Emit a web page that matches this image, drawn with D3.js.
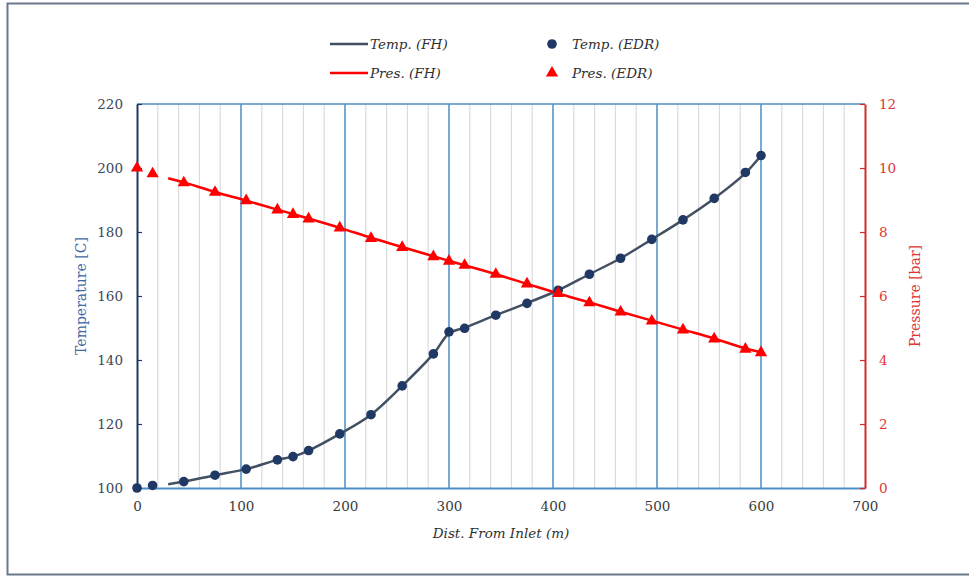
<!DOCTYPE html>
<html>
<head>
<meta charset="utf-8">
<script src="https://cdn.jsdelivr.net/npm/d3@7"></script>
<style>
html,body{margin:0;padding:0;background:#fff;}
svg{display:block;}
</style>
</head>
<body>
<svg id="chart" width="969" height="577"></svg>
<script>
// ---- data ----
const distEDR = [0, 15, 45, 75, 105, 135, 150, 165, 195, 225, 255, 285, 300, 315, 345, 375, 405, 435, 465, 495, 525, 555, 585, 600];
const tempEDR = [100, 100.8, 102, 104, 105.9, 108.8, 109.8, 111.7, 116.9, 122.9, 131.9, 141.9, 148.8, 149.9, 154, 157.7, 161.8, 166.8, 171.8, 177.7, 183.8, 190.5, 198.6, 203.9];
const presEDR = [10.0, 9.82, 9.54, 9.24, 8.98, 8.69, 8.55, 8.41, 8.13, 7.80, 7.52, 7.23, 7.09, 6.96, 6.68, 6.38, 6.08, 5.79, 5.50, 5.22, 4.94, 4.66, 4.34, 4.23];

const distFH = [30, 45, 75, 105, 135, 150, 165, 195, 225, 255, 285, 300, 315, 345, 375, 405, 435, 465, 495, 525, 555, 585, 600];
const tempFH = [101.2, 102, 104, 105.9, 108.8, 109.8, 111.7, 116.9, 122.9, 131.9, 141.9, 148.3, 150.1, 154, 157.8, 161.8, 166.8, 171.8, 177.7, 183.8, 190.5, 198.4, 203.9];
const presFH = [9.68, 9.55, 9.25, 8.98, 8.70, 8.56, 8.42, 8.13, 7.82, 7.53, 7.24, 7.10, 6.96, 6.68, 6.38, 6.08, 5.80, 5.51, 5.23, 4.95, 4.67, 4.36, 4.24];

const xTicks = [0, 100, 200, 300, 400, 500, 600, 700];
const xMinorTicks = d3.range(0, 701, 20);
const tempTicks = [100, 120, 140, 160, 180, 200, 220];
const presTicks = [0, 2, 4, 6, 8, 10, 12];

const legendLabels = ["Temp. (FH)", "Temp. (EDR)", "Pres. (FH)", "Pres. (EDR)"];
const xTitle = "Dist. From Inlet (m)";
const yTitle = "Temperature [C]";
const y2Title = "Pressure [bar]";

// ---- layout ----
const L = 137, R = 865, T = 104, B = 488;
const svg = d3.select("#chart");
const serif = "'DejaVu Serif', 'Liberation Serif', serif";

const C = {
  navy: "#1f3864",
  tline: "#434f62",
  red: "#ff0000",
  axisRed: "#d42a2a",
  major: "#4a8fc8",
  minor: "#dcdcdc",
  tickLbl: "#3b475a",
  yTitle: "#44679f"
};

// outer frame
svg.append("rect").attr("x", 7.5).attr("y", 3.5).attr("width", 980).attr("height", 571)
  .attr("fill", "#fff").attr("stroke", "#6b7889").attr("stroke-width", 2);

const x = d3.scaleLinear().domain([0, 700]).range([L, R]);
const yT = d3.scaleLinear().domain([100, 220]).range([B, T]);
const yP = d3.scaleLinear().domain([0, 12]).range([B, T]);

// minor gridlines
svg.append("g").selectAll("line").data(xMinorTicks.filter(d => d % 100 !== 0)).join("line")
  .attr("x1", d => x(d)).attr("x2", d => x(d)).attr("y1", T).attr("y2", B)
  .attr("stroke", C.minor).attr("stroke-width", 1.2);

// major gridlines
svg.append("g").selectAll("line").data(xTicks.filter(d => d > 0 && d < 700)).join("line")
  .attr("x1", d => x(d)).attr("x2", d => x(d)).attr("y1", T).attr("y2", B)
  .attr("stroke", C.major).attr("stroke-width", 1.5);

// top border
svg.append("line").attr("x1", L).attr("x2", R).attr("y1", T).attr("y2", T)
  .attr("stroke", C.major).attr("stroke-width", 1.5);

// bottom axis
const gx = svg.append("g").attr("transform", `translate(0,${B})`)
  .call(d3.axisBottom(x).tickValues(xTicks).tickSize(0).tickPadding(13));
gx.select(".domain").attr("stroke", C.major).attr("stroke-width", 2);
gx.selectAll("text").attr("font-family", serif).attr("font-size", 13.5).attr("fill", "#3a3a3a");

// left axis
const gl = svg.append("g").attr("transform", `translate(${L},0)`)
  .call(d3.axisLeft(yT).tickValues(tempTicks).tickSize(-5).tickPadding(14).tickSizeOuter(0));
gl.select(".domain").attr("stroke", C.navy).attr("stroke-width", 2);
gl.selectAll(".tick line").attr("stroke", C.navy).attr("stroke-width", 1.2);
gl.selectAll("text").attr("font-family", serif).attr("font-size", 13.5).attr("fill", C.tickLbl);

// right axis
const gr = svg.append("g").attr("transform", `translate(${R},0)`)
  .call(d3.axisRight(yP).tickValues(presTicks).tickSize(-5).tickPadding(14).tickSizeOuter(0));
gr.select(".domain").attr("stroke", C.axisRed).attr("stroke-width", 2);
gr.selectAll(".tick line").attr("stroke", C.axisRed).attr("stroke-width", 1.2);
gr.selectAll("text").attr("font-family", serif).attr("font-size", 13.5).attr("fill", "#e03535");

// axis titles
svg.append("text").attr("transform", `translate(81,${(T + B) / 2}) rotate(-90)`)
  .attr("text-anchor", "middle").attr("dy", "0.35em").attr("font-family", serif).attr("font-size", 14)
  .attr("fill", C.yTitle).text(yTitle);
svg.append("text").attr("transform", `translate(915,${(T + B) / 2}) rotate(-90)`)
  .attr("text-anchor", "middle").attr("dy", "0.35em").attr("font-family", serif).attr("font-size", 14)
  .attr("fill", "#e03535").text(y2Title);
svg.append("text").attr("x", (L + R) / 2).attr("y", 538)
  .attr("text-anchor", "middle").attr("font-family", serif).attr("font-style", "italic")
  .attr("font-size", 13.5).attr("fill", "#303030").text(xTitle);

// lines
const tempLine = d3.line().x((d, i) => x(distFH[i])).y(d => yT(d)).curve(d3.curveCatmullRom.alpha(0.5));
const presLine = d3.line().x((d, i) => x(distFH[i])).y(d => yP(d)).curve(d3.curveCatmullRom.alpha(0.5));

svg.append("path").datum(tempFH).attr("d", tempLine).attr("fill", "none")
  .attr("stroke", C.tline).attr("stroke-width", 2.5);
svg.append("path").datum(presFH).attr("d", presLine).attr("fill", "none")
  .attr("stroke", C.red).attr("stroke-width", 2.5);

// markers
svg.append("g").selectAll("circle").data(tempEDR).join("circle")
  .attr("cx", (d, i) => x(distEDR[i])).attr("cy", d => yT(d)).attr("r", 4.8)
  .attr("fill", C.navy);
const tri = d3.symbol().type(d3.symbolTriangle).size(65);
svg.append("g").selectAll("path").data(presEDR).join("path")
  .attr("transform", (d, i) => `translate(${x(distEDR[i])},${yP(d)})`)
  .attr("d", tri).attr("fill", C.red);

// legend
const lg = svg.append("g");
const rows = [44, 73];
const lx1 = 330, lx2 = 368, mx = 552;
lg.append("line").attr("x1", lx1).attr("x2", lx2).attr("y1", rows[0]).attr("y2", rows[0])
  .attr("stroke", C.tline).attr("stroke-width", 2.5);
lg.append("line").attr("x1", lx1).attr("x2", lx2).attr("y1", rows[1]).attr("y2", rows[1])
  .attr("stroke", C.red).attr("stroke-width", 2.5);
lg.append("circle").attr("cx", mx).attr("cy", rows[0]).attr("r", 4.8).attr("fill", C.navy);
lg.append("path").attr("transform", `translate(${mx},${rows[1]})`).attr("d", tri).attr("fill", C.red);
const lpos = [[370, rows[0]], [572, rows[0]], [370, rows[1]], [572, rows[1]]];
lg.selectAll("text").data(legendLabels).join("text")
  .attr("x", (d, i) => lpos[i][0]).attr("y", (d, i) => lpos[i][1]).attr("dy", "0.35em")
  .attr("font-family", serif).attr("font-style", "italic").attr("font-size", 13.5)
  .attr("fill", "#303030").text(d => d);
</script>
</body>
</html>
